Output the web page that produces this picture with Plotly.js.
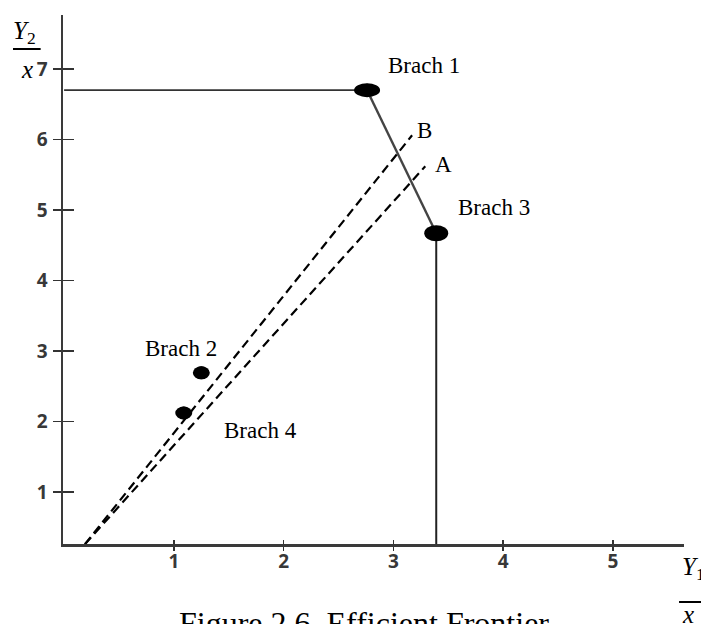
<!DOCTYPE html>
<html>
<head>
<meta charset="utf-8">
<script src="https://cdn.plot.ly/plotly-3.0.1.min.js"></script>
<style>html,body{margin:0;padding:0;background:#fff;}#chart{width:701px;height:624px;}</style>
</head>
<body>
<div id="chart"></div>
<script>
// ---- data ----
const categories = ['Brach 1', 'Brach 2', 'Brach 3', 'Brach 4'];
const pointX = [2.76, 1.25, 3.39, 1.09];
const pointY = [6.70, 2.69, 4.67, 2.12];

const frontierX = [0, 2.76, 3.39, 3.39];
const frontierY = [6.70, 6.70, 4.67, 0.26];

const lineNames = ['A', 'B'];
const lineAX = [0.19, 3.29];
const lineAY = [0.26, 5.62];
const lineBX = [0.19, 3.17];
const lineBY = [0.26, 6.06];

const xTickVals = [1, 2, 3, 4, 5];
const yTickVals = [1, 2, 3, 4, 5, 6, 7];

// ---- styles / placement (not data) ----
const markerPx = [[26, 14], [17, 13], [24, 16], [17, 13]];
const labelShift = [[57, 25], [-20, 24], [58, 26], [77, -17]];
const lineLabelShift = {A: [18, 2], B: [12, 5]};
const xRange = [-0.01, 5.647];
const yRange = [0.262, 7.766];
const serif = 'Liberation Serif, Times New Roman, serif';

const traces = [];
traces.push({x: frontierX.slice(0, 2), y: frontierY.slice(0, 2), mode: 'lines',
  line: {color: '#333', width: 1.8}, hoverinfo: 'skip', showlegend: false});
traces.push({x: frontierX.slice(1, 3), y: frontierY.slice(1, 3), mode: 'lines',
  line: {color: '#444', width: 2.4}, hoverinfo: 'skip', showlegend: false});
traces.push({x: frontierX.slice(2, 4), y: frontierY.slice(2, 4), mode: 'lines',
  line: {color: '#222', width: 2}, hoverinfo: 'skip', showlegend: false});
traces.push({x: lineAX, y: lineAY, mode: 'lines', name: lineNames[0],
  line: {color: '#000', width: 2.2, dash: '9px,5px'}, showlegend: false});
traces.push({x: lineBX, y: lineBY, mode: 'lines', name: lineNames[1],
  line: {color: '#000', width: 2.2, dash: '9px,5px'}, showlegend: false});
traces.push({x: pointX, y: pointY, text: categories, mode: 'markers',
  marker: {color: '#000', size: 13, symbol: 'circle'}, showlegend: false});
traces.push({x: [xRange[0]], y: [yRange[0]], xaxis: 'x2', yaxis: 'y2', mode: 'markers',
  marker: {opacity: 0}, hoverinfo: 'skip', showlegend: false});

const shapes = [];
pointX.forEach((px, i) => {
  const [w, h] = markerPx[i];
  shapes.push({type: 'circle', xref: 'x', yref: 'y', xsizemode: 'pixel', ysizemode: 'pixel',
    xanchor: px, yanchor: pointY[i], x0: -w / 2, x1: w / 2, y0: -h / 2, y1: h / 2,
    fillcolor: '#000', line: {color: '#000', width: 0}});
});
shapes.push({type: 'line', xref: 'paper', yref: 'paper', x0: -0.0805, x1: -0.036, y0: 0.9357, y1: 0.9357,
  line: {color: '#000', width: 2}});
shapes.push({type: 'line', xref: 'paper', yref: 'paper', x0: 0.992, x1: 1.03, y0: -0.1096, y1: -0.1096,
  line: {color: '#000', width: 2}});

const annotations = [];
categories.forEach((c, i) => {
  annotations.push({x: pointX[i], y: pointY[i], xref: 'x', yref: 'y', text: c, showarrow: false,
    xshift: labelShift[i][0], yshift: labelShift[i][1], xanchor: 'center', yanchor: 'middle',
    font: {family: serif, size: 23, color: '#000'}});
});
annotations.push({x: lineAX[1], y: lineAY[1], xref: 'x', yref: 'y', text: lineNames[0], showarrow: false,
  xshift: lineLabelShift.A[0], yshift: lineLabelShift.A[1], font: {family: serif, size: 23, color: '#000'}});
annotations.push({x: lineBX[1], y: lineBY[1], xref: 'x', yref: 'y', text: lineNames[1], showarrow: false,
  xshift: lineLabelShift.B[0], yshift: lineLabelShift.B[1], font: {family: serif, size: 23, color: '#000'}});
annotations.push({xref: 'paper', yref: 'paper', x: -0.0628, y: 0.966, text: '<i>Y</i><sub>2</sub>',
  showarrow: false, xanchor: 'center', yanchor: 'middle', font: {family: serif, size: 25, color: '#000'}});
annotations.push({xref: 'paper', yref: 'paper', x: -0.058, y: 0.897, text: '<i>x</i>',
  showarrow: false, xanchor: 'center', yanchor: 'middle', font: {family: serif, size: 25, color: '#000'}});
annotations.push({xref: 'paper', yref: 'paper', x: 0.9936, y: -0.047, text: '<i>Y</i><sub>1</sub>',
  showarrow: false, xanchor: 'left', yanchor: 'middle', font: {family: serif, size: 25, color: '#000'}});
annotations.push({xref: 'paper', yref: 'paper', x: 1.0064, y: -0.1342, text: '<i>x</i>',
  showarrow: false, xanchor: 'center', yanchor: 'middle', font: {family: serif, size: 25, color: '#000'}});
annotations.push({xref: 'paper', yref: 'paper', x: 0.1836, y: -0.1115, text: 'Figure 2.6. Efficient Frontier',
  showarrow: false, xanchor: 'left', yanchor: 'top', font: {family: serif, size: 32, color: '#000'}});

const tickFont = {family: 'Open Sans, sans-serif', size: 19, color: '#383838', weight: 700};
const layout = {
  width: 701, height: 624,
  margin: {l: 63, r: 17, t: 15, b: 80, pad: 0},
  paper_bgcolor: '#fff', plot_bgcolor: '#fff',
  showlegend: false,
  xaxis: {range: xRange, tickvals: xTickVals, ticktext: xTickVals.map(String), ticks: 'outside',
    ticklen: 4, tickwidth: 1.5, tickcolor: '#333', showline: true, linecolor: '#3a3a3a', linewidth: 2.5,
    showgrid: false, zeroline: false, tickfont: tickFont, fixedrange: true, ticklabelstandoff: -5},
  yaxis: {range: yRange, tickvals: yTickVals, ticktext: yTickVals.map(String), ticks: 'outside',
    ticklen: 8, tickwidth: 1.5, tickcolor: '#333', showline: true, linecolor: '#3a3a3a', linewidth: 2.5,
    showgrid: false, zeroline: false, tickfont: tickFont, fixedrange: true, ticklabelstandoff: 1},
  xaxis2: {range: xRange, overlaying: 'x', anchor: 'y', side: 'bottom', tickvals: xTickVals, ticks: 'inside',
    ticklen: 4, tickwidth: 1.5, tickcolor: '#333', showticklabels: false, showline: false,
    showgrid: false, zeroline: false, fixedrange: true},
  yaxis2: {range: yRange, overlaying: 'y', anchor: 'x', side: 'left', tickvals: yTickVals, ticks: 'inside',
    ticklen: 11, tickwidth: 1.5, tickcolor: '#333', showticklabels: false, showline: false,
    showgrid: false, zeroline: false, fixedrange: true},
  shapes: shapes,
  annotations: annotations
};

Plotly.newPlot('chart', traces, layout, {displayModeBar: false, staticPlot: true});
</script>
</body>
</html>
